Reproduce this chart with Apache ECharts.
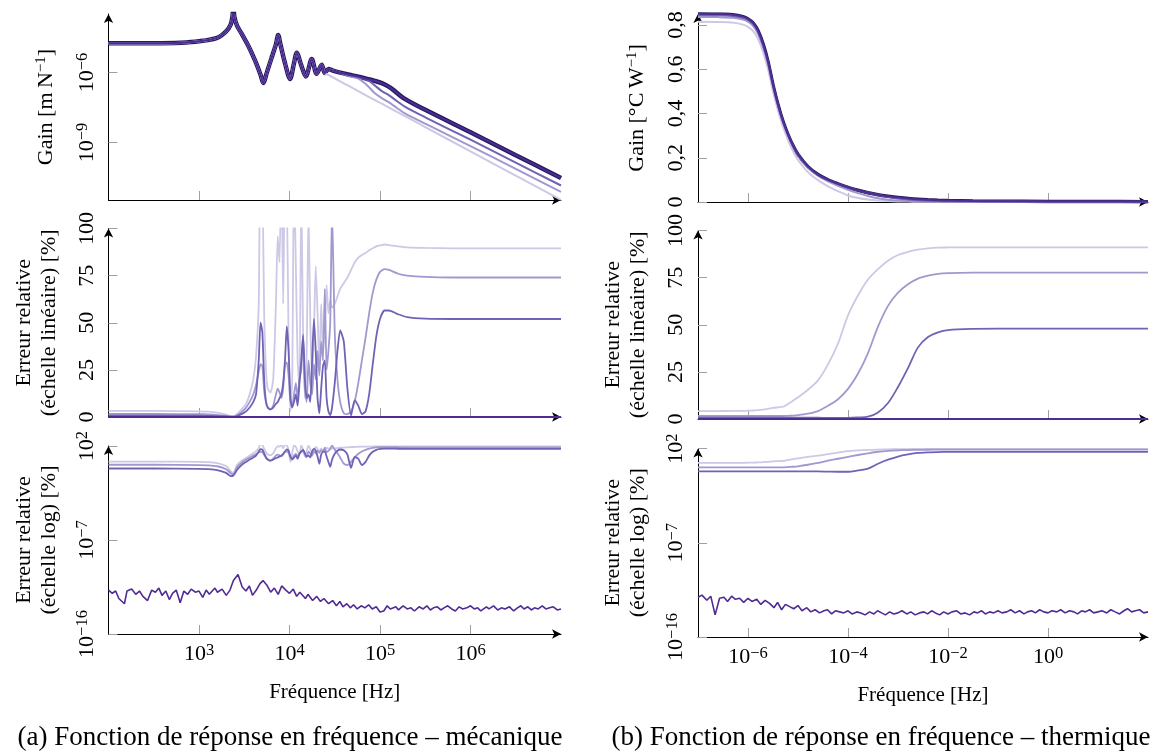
<!DOCTYPE html>
<html><head><meta charset="utf-8">
<script src="https://cdn.jsdelivr.net/npm/echarts@6/dist/echarts.min.js"></script>
<style>html,body{margin:0;padding:0;background:#fff}#c{width:1157px;height:756px}</style>
</head><body><div id="c"></div><script>
// ---------------- (a) mécanique ----------------
const freqGainMeca = [100,316,631,1000,1585,1995,2239,2344,2399,2455,2630,3020,3548,4169,4786,5129,5623,6310,7079,7499,7943,8913,10139,11220,12023,13490,15136,17620,19953,22699,24547,26915,30200,35481,45709,57544,72444,87096,104713,125893,141254,186209,316228,1000000,3162278,10000000];
const gainRefMeca = [1.78e-5,1.78e-5,1.86e-5,2.14e-5,3.02e-5,5.75e-5,1.12e-4,2.51e-4,6.31e-4,2.51e-4,1.0e-4,3.98e-5,1.26e-5,3.16e-6,7.94e-7,3.55e-7,1.0e-6,3.98e-6,1.58e-5,3.98e-5,1.58e-5,2.51e-6,5.25e-7,2.51e-6,6.92e-6,2.0e-6,6.76e-7,3.72e-6,8.71e-7,2.14e-6,9.33e-7,1.41e-6,1.2e-6,1.0e-6,7.94e-7,6.61e-7,5.25e-7,4.37e-7,3.47e-7,2.4e-7,1.74e-7,7.59e-8,2.51e-8,2.75e-9,2.88e-10,3.02e-11];
const gainMeca4 = [1.78e-5,1.78e-5,1.86e-5,2.14e-5,3.02e-5,5.75e-5,1.12e-4,2.51e-4,6.31e-4,2.51e-4,1.0e-4,3.98e-5,1.26e-5,3.16e-6,7.94e-7,3.55e-7,1.0e-6,3.98e-6,1.58e-5,3.98e-5,1.58e-5,2.51e-6,5.25e-7,2.51e-6,6.92e-6,2.0e-6,6.76e-7,3.72e-6,8.71e-7,2.14e-6,9.33e-7,1.41e-6,1.2e-6,1.0e-6,7.94e-7,6.61e-7,5.25e-7,4.37e-7,3.47e-7,2.4e-7,1.74e-7,7.59e-8,2.51e-8,2.75e-9,2.88e-10,3.02e-11];
const gainMeca3 = [1.78e-5,1.78e-5,1.86e-5,2.14e-5,3.02e-5,5.75e-5,1.12e-4,2.51e-4,6.31e-4,2.51e-4,1.0e-4,3.98e-5,1.26e-5,3.16e-6,7.94e-7,3.55e-7,1.0e-6,3.98e-6,1.58e-5,3.98e-5,1.58e-5,2.51e-6,5.25e-7,2.51e-6,6.92e-6,2.0e-6,6.76e-7,3.72e-6,8.71e-7,2.14e-6,9.33e-7,1.41e-6,1.2e-6,1.0e-6,7.59e-7,6.17e-7,4.79e-7,2.82e-7,1.58e-7,1.05e-7,7.59e-8,3.55e-8,1.2e-8,1.32e-9,1.38e-10,1.45e-11];
const gainMeca2 = [1.78e-5,1.78e-5,1.86e-5,2.14e-5,3.02e-5,5.75e-5,1.12e-4,2.51e-4,6.31e-4,2.51e-4,1.0e-4,3.98e-5,1.26e-5,3.16e-6,7.94e-7,3.55e-7,1.0e-6,3.98e-6,1.58e-5,3.98e-5,1.58e-5,2.51e-6,5.25e-7,2.51e-6,6.92e-6,2.0e-6,6.76e-7,3.72e-6,8.71e-7,2.14e-6,9.33e-7,1.41e-6,1.2e-6,1.0e-6,6.92e-7,5.37e-7,2.75e-7,1.32e-7,7.94e-8,5.25e-8,3.8e-8,1.82e-8,6.46e-9,7.08e-10,7.41e-11,7.76e-12];
const gainMeca1 = [1.72e-5,1.72e-5,1.80e-5,2.14e-5,3.02e-5,5.75e-5,1.12e-4,2.51e-4,6.31e-4,2.51e-4,1.0e-4,3.98e-5,1.26e-5,3.16e-6,7.94e-7,3.55e-7,1.0e-6,3.98e-6,1.58e-5,3.98e-5,1.58e-5,2.51e-6,5.25e-7,2.51e-6,6.92e-6,2.0e-6,6.76e-7,3.72e-6,8.71e-7,2.14e-6,9.33e-7,7.76e-7,6.17e-7,4.37e-7,2.57e-7,1.58e-7,9.77e-8,6.61e-8,4.57e-8,3.09e-8,2.45e-8,1.38e-8,4.57e-9,4.17e-10,3.8e-11,3.55e-12];

const freqErrMeca = [100,316,1000,1259,1585,1995,2239,2399,2630,2951,3311,3631,3981,4266,4571,4786,5012,5248,5495,5754,6166,6607,7079,7413,7762,8128,8511,8913,9333,9772,10233,10715,11220,11749,12303,12882,13490,14125,14791,15488,16218,16982,17783,18621,19498,20417,21380,22387,23442,24547,25704,26915,28184,29512,31623,33884,36308,39811,43652,47863,52481,57544,63096,69183,75858,83176,91201,100000,112202,125893,158489,199526,316228,630957,1584893,3981072,10000000];
const errMeca1 = [3.2,3.2,3.0,2.8,2.3,1.2,0.4,0.25,1.5,4,7,12,20,32,60,160,130,55,25,15,13,20,60,96,82,140,60,130,120,40,3,20,130,80,30,15,120,45,10,35,110,50,20,45,80,55,25,60,35,48,70,55,62,58,60,64,68,71,74,78,82,84.5,86,87,88.5,89.5,90.5,91,91.5,91.2,90.5,90,89.7,89.5,89.5,89.5,89.5];
const errMeca2 = [1.6,1.6,1.5,1.4,1.15,0.6,0.25,0.2,0.9,2.5,5,8,12,17,24,28,27,14,8,5,4,6,12,15,13,10,15,28,29,22,8,6,12,18,10,20,25,44,15,8,30,18,12,28,20,35,22,40,30,68,25,35,50,110,45,20,8,2,1.5,3,8,18,30,42,55,66,73,77,78.5,78,76,75,74.3,74,74,74,74];
const errMeca3 = [0.7,0.7,0.65,0.6,0.5,0.27,0.13,0.15,0.5,1.5,3,5,8,12,30,50,45,20,8,5,4,5,7,8,10,12,18,30,48,35,10,5,8,12,6,18,30,43,20,10,12,8,30,52,35,10,2,15,27,30,10,3,1,5,18,35,46,40,15,0.8,9,6,1.5,3,12,28,43,52,56.5,56.5,54.5,53,52.2,52,52,52,52];

const freqNoiseMeca = [100,110,120,130,150,160,180,200,220,240,270,300,330,360,390,430,470,510,560,620,680,750,820,910,
1000,1100,1200,1300,1500,1600,1800,2000,2200,2400,2700,3000,3300,3600,3900,4300,4700,5100,5600,6200,6800,7500,8200,9100,
1e4,1.1e4,1.2e4,1.3e4,1.5e4,1.6e4,1.8e4,2e4,2.2e4,2.4e4,2.7e4,3e4,3.3e4,3.6e4,3.9e4,4.3e4,4.7e4,5.1e4,5.6e4,6.2e4,6.8e4,7.5e4,8.2e4,9.1e4,
1e5,1.1e5,1.2e5,1.3e5,1.5e5,1.6e5,1.8e5,2e5,2.2e5,2.4e5,2.7e5,3e5,3.3e5,3.6e5,3.9e5,4.3e5,4.7e5,5.1e5,5.6e5,6.2e5,6.8e5,7.5e5,8.2e5,9.1e5,
1e6,1.1e6,1.2e6,1.3e6,1.5e6,1.6e6,1.8e6,2e6,2.2e6,2.4e6,2.7e6,3e6,3.3e6,3.6e6,3.9e6,4.3e6,4.7e6,5.1e6,5.6e6,6.2e6,6.8e6,7.5e6,8.2e6,9.1e6,1e7];
const errMeca4 = [1.6e-12,7.9e-13,1.3e-12,2.5e-13,7.9e-14,1.3e-12,2.0e-12,6.3e-13,1.3e-12,4.0e-13,1.6e-13,1.6e-12,1.0e-12,2.5e-12,5.0e-13,1.3e-12,2.0e-13,7.9e-13,1.6e-12,1.0e-13,1.3e-12,6.3e-13,2.0e-12,1.0e-12,
1.3e-12,3.2e-13,1.6e-12,6.3e-13,2.5e-12,1.0e-12,2.0e-12,5.0e-13,1.6e-12,1.3e-11,5.0e-11,3.2e-12,1.3e-12,4.0e-12,5.0e-13,1.6e-12,6.3e-12,1.3e-11,5.0e-12,1.0e-12,2.5e-12,6.3e-13,4.0e-12,1.6e-12,
7.9e-13,2.0e-12,4.0e-13,1.0e-12,2.5e-13,6.3e-13,1.6e-13,4.0e-13,1.3e-13,2.5e-13,7.9e-14,1.6e-13,5.0e-14,1.3e-13,4.0e-14,7.9e-14,3.2e-14,6.3e-14,2.5e-14,5.0e-14,3.2e-14,6.3e-14,2.5e-14,4.0e-14,
1.3e-14,1.6e-14,5.0e-14,2.5e-14,4.0e-14,2.0e-14,5.0e-14,2.5e-14,3.2e-14,1.6e-14,4.0e-14,2.5e-14,5.0e-14,2.0e-14,3.2e-14,4.0e-14,2.0e-14,3.2e-14,5.0e-14,2.5e-14,1.6e-14,4.0e-14,2.5e-14,3.2e-14,
5.0e-14,2.5e-14,3.2e-14,1.6e-14,4.0e-14,2.5e-14,5.0e-14,2.0e-14,3.2e-14,2.5e-14,4.0e-14,1.6e-14,3.2e-14,5.0e-14,2.5e-14,4.0e-14,2.0e-14,3.2e-14,2.5e-14,5.0e-14,2.5e-14,3.2e-14,4.0e-14,2.0e-14,2.5e-14];

// ---------------- (b) thermique ----------------
const freqTherm = [1e-7,2.51e-7,5.01e-7,7.94e-7,1e-6,1.26e-6,1.58e-6,2.0e-6,2.51e-6,3.16e-6,3.98e-6,5.01e-6,6.31e-6,7.94e-6,1e-5,1.58e-5,2.51e-5,3.98e-5,6.31e-5,1e-4,1.58e-4,2.51e-4,3.98e-4,6.31e-4,1e-3,1.58e-3,2.51e-3,3.98e-3,6.31e-3,1e-2,3.16e-2,0.1,1,10,100];
const gainRefTherm = [0.851,0.850,0.847,0.838,0.828,0.81,0.775,0.715,0.635,0.53,0.44,0.365,0.305,0.255,0.215,0.16,0.124,0.1,0.082,0.066,0.053,0.042,0.033,0.026,0.02,0.016,0.0125,0.01,0.008,0.0065,0.0045,0.0035,0.0025,0.002,0.0015];
const gainTherm4 = [0.851,0.850,0.847,0.838,0.828,0.81,0.775,0.715,0.635,0.53,0.44,0.365,0.305,0.255,0.215,0.16,0.124,0.1,0.082,0.066,0.053,0.042,0.033,0.026,0.02,0.016,0.0125,0.01,0.008,0.0065,0.0045,0.0035,0.0025,0.002,0.0015];
const gainTherm3 = [0.845,0.844,0.841,0.833,0.823,0.805,0.770,0.710,0.631,0.527,0.437,0.363,0.303,0.253,0.214,0.159,0.123,0.0994,0.0815,0.0656,0.0526,0.0415,0.0318,0.0238,0.0166,0.0117,0.0078,0.0057,0.0043,0.0034,0.0023,0.0018,0.0013,0.001,0.00078];
const gainTherm2 = [0.837,0.836,0.833,0.825,0.815,0.797,0.763,0.704,0.625,0.522,0.433,0.359,0.300,0.250,0.211,0.156,0.119,0.093,0.073,0.0554,0.0403,0.0273,0.0168,0.0104,0.0066,0.0046,0.0032,0.0024,0.0018,0.0015,0.001,0.00078,0.00056,0.00045,0.00034];
const gainTherm1 = [0.815,0.814,0.811,0.802,0.792,0.774,0.739,0.679,0.601,0.499,0.413,0.341,0.281,0.230,0.190,0.135,0.0986,0.071,0.049,0.0297,0.0183,0.0109,0.0068,0.0042,0.0026,0.0018,0.0013,0.00095,0.00073,0.00059,0.0004,0.00031,0.00022,0.00018,0.00013];
const errTherm1 = [4.2,4.2,4.3,4.3,4.4,4.5,4.7,5.0,5.4,5.9,6.2,6.5,8.0,9.7,11.5,15.5,20.5,29,40,55,65.5,74,79.5,84,87,88.7,89.8,90.5,90.9,91,91.1,91.1,91.1,91.1,91.1];
const errTherm2 = [1.6,1.6,1.6,1.6,1.6,1.6,1.6,1.6,1.6,1.6,1.6,1.6,1.7,1.8,2.0,2.8,4.2,7.0,10.5,16,24,35,49,60,67,71.5,74.5,76,77,77.4,77.6,77.6,77.6,77.6,77.6];
const errTherm3 = [0.65,0.65,0.65,0.65,0.65,0.65,0.65,0.65,0.65,0.65,0.65,0.65,0.65,0.65,0.65,0.65,0.65,0.62,0.6,0.6,0.8,1.2,3.5,8.5,17,27,38,43.5,46,47.2,47.8,47.9,47.9,47.9,47.9];

const freqNoiseTherm = [1e-7,1.2e-7,1.5e-7,1.8e-7,2.2e-7,2.7e-7,3.3e-7,3.9e-7,4.7e-7,5.6e-7,6.8e-7,8.2e-7,
1e-6,1.2e-6,1.5e-6,1.8e-6,2.2e-6,2.7e-6,3.3e-6,3.9e-6,4.7e-6,5.6e-6,6.8e-6,8.2e-6,
1e-5,1.2e-5,1.5e-5,1.8e-5,2.2e-5,2.7e-5,3.3e-5,3.9e-5,4.7e-5,5.6e-5,6.8e-5,8.2e-5,
1e-4,1.2e-4,1.5e-4,1.8e-4,2.2e-4,2.7e-4,3.3e-4,3.9e-4,4.7e-4,5.6e-4,6.8e-4,8.2e-4,
1e-3,1.2e-3,1.5e-3,1.8e-3,2.2e-3,2.7e-3,3.3e-3,3.9e-3,4.7e-3,5.6e-3,6.8e-3,8.2e-3,
1e-2,1.2e-2,1.5e-2,1.8e-2,2.2e-2,2.7e-2,3.3e-2,3.9e-2,4.7e-2,5.6e-2,6.8e-2,8.2e-2,
0.1,0.12,0.15,0.18,0.22,0.27,0.33,0.39,0.47,0.56,0.68,0.82,
1,1.2,1.5,1.8,2.2,2.7,3.3,3.9,4.7,5.6,6.8,8.2,
10,12,15,18,22,27,33,39,47,56,68,82,100];
const errTherm4 = [6.3e-13,1.0e-12,3.2e-13,7.9e-13,1.3e-14,5.0e-13,6.3e-13,2.5e-13,7.9e-13,4.0e-13,5.0e-13,2.0e-13,
5.0e-13,2.5e-13,4.0e-13,1.3e-13,3.2e-13,1.6e-13,6.3e-14,2.0e-13,4.0e-14,1.3e-13,7.9e-14,5.0e-14,
1.0e-13,3.2e-14,6.3e-14,2.5e-14,4.0e-14,2.0e-14,3.2e-14,4.0e-14,1.6e-14,3.2e-14,2.5e-14,2.0e-14,
3.2e-14,1.6e-14,2.5e-14,2.0e-14,1.3e-14,2.5e-14,1.6e-14,3.2e-14,2.0e-14,1.3e-14,2.5e-14,1.6e-14,
2.0e-14,3.2e-14,1.6e-14,2.5e-14,1.3e-14,2.0e-14,2.5e-14,1.6e-14,3.2e-14,2.0e-14,1.3e-14,2.5e-14,
1.6e-14,2.5e-14,3.2e-14,1.6e-14,2.0e-14,1.3e-14,2.5e-14,2.0e-14,3.2e-14,1.6e-14,2.5e-14,2.0e-14,
3.2e-14,2.0e-14,2.5e-14,4.0e-14,2.0e-14,3.2e-14,1.6e-14,2.5e-14,3.2e-14,2.0e-14,4.0e-14,2.5e-14,
2.0e-14,3.2e-14,2.5e-14,4.0e-14,2.0e-14,3.2e-14,2.5e-14,1.6e-14,3.2e-14,2.5e-14,4.0e-14,2.0e-14,
2.5e-14,3.2e-14,2.0e-14,4.0e-14,2.5e-14,1.6e-14,3.2e-14,5.0e-14,2.5e-14,3.2e-14,4.0e-14,2.0e-14,2.5e-14];

// ---------------- axes: ranges and ticks ----------------
const xRangeMeca = [1e2, 1e7];
const xTicksMeca = [1e3, 1e4, 1e5, 1e6];
const xRangeTherm = [1e-7, 1e2];
const xTicksTherm = [1e-6, 1e-4, 1e-2, 1];
const yRangeGainMeca = [3.47e-12, 3.16e-4];
const yTicksGainMeca = [1e-9, 1e-6];
const yRangeGainTherm = [0, 0.85];
const yTicksGainTherm = [0, 0.2, 0.4, 0.6, 0.8];
const yRangeLin = [0, 100];
const yTicksLin = [0, 25, 50, 75, 100];
const yRangeLog = [1e-16, 1e2];
const yTicksLog = [1e-16, 1e-7, 1e2];

// ---------------- helpers ----------------
const FONT = '"Liberation Serif", "Times New Roman", serif';
const lg = v => Math.round(Math.log10(v) * 1e6) / 1e6;
const logLog = (xs, ys) => xs.map((x, i) => [lg(x), lg(ys[i])]);
const logLin = (xs, ys) => xs.map((x, i) => [lg(x), ys[i]]);
const C1 = '#ccc8e5', C2 = '#9f99cf', C3 = '#6f63b5', C4 = '#4f2b93', CREF = '#221c5c';

const rich = {
  b: {fontFamily: FONT, fontSize: 22, color: '#000', lineHeight: 25},
  s: {fontFamily: FONT, fontSize: 16.5, color: '#000', lineHeight: 16, verticalAlign: 'top'}
};
function supFmt(v) { const e = Math.round(v); return '{b|10}{s|' + (e < 0 ? '\u2212' + (-e) : String(e)) + '}'; }
const linFmt = v => '{b|' + Math.round(v) + '}';
const commaFmt = v => '{b|' + (Math.abs(v) < 1e-9 ? '0' : v.toFixed(1).replace('.', ',')) + '}';

function mkX(gi, range, ticks, bottom) {
  const tv = ticks.map(lg);
  return {
    type: 'value', gridIndex: gi, min: lg(range[0]), max: lg(range[1]),
    axisLine: {show: true, onZero: false, symbol: ['none', 'arrow'], symbolSize: [7, 9], lineStyle: {color: '#000', width: 1}},
    axisTick: {show: true, inside: true, length: 9, lineStyle: {color: '#a0a0a0', width: 1}, customValues: tv},
    axisLabel: {show: bottom, customValues: tv, formatter: supFmt, rich: rich, margin: 8},
    splitLine: {show: false},
    name: bottom ? 'Fréquence [Hz]' : '', nameLocation: 'middle', nameGap: 48,
    nameTextStyle: {fontFamily: FONT, fontSize: 21, color: '#000'}
  };
}
function mkY(gi, range, ticks, isLog, fmt, name, gap) {
  const tv = isLog ? ticks.map(lg) : ticks;
  return {
    type: 'value', gridIndex: gi,
    min: isLog ? lg(range[0]) : range[0], max: isLog ? lg(range[1]) : range[1],
    axisLine: {show: true, onZero: false, symbol: ['none', 'arrow'], symbolSize: [7, 9], lineStyle: {color: '#000', width: 1}},
    axisTick: {show: true, inside: true, length: 9, lineStyle: {color: '#a0a0a0', width: 1}, customValues: tv},
    axisLabel: {show: true, customValues: tv, formatter: fmt, rich: rich, rotate: 90, margin: 9},
    splitLine: {show: false},
    name: name, nameLocation: 'middle', nameRotate: 90, nameGap: gap,
    nameTextStyle: {fontFamily: FONT, fontSize: 22, color: '#000', lineHeight: 25,
      rich: {s: {fontFamily: FONT, fontSize: 15, color: '#000', lineHeight: 15, verticalAlign: 'top'}}}
  };
}
function ln(gi, data, color, width, smooth, z) {
  return {type: 'line', xAxisIndex: gi, yAxisIndex: gi, data: data, symbol: 'none', showSymbol: false,
    smooth: smooth, lineStyle: {color: color, width: width}, itemStyle: {color: color},
    clip: true, silent: true, z: z, emphasis: {disabled: true}, animation: false};
}

const ERR_LIN = 'Erreur relative\n(échelle linéaire) [%]';
const ERR_LOG = 'Erreur relative\n(échelle log) [%]';

const option = {
  backgroundColor: '#fff',
  animation: false,
  grid: [
    {left: 108.5, top: 14, width: 452.5, height: 186, containLabel: false, outerBoundsMode: 'none'},
    {left: 108.5, top: 228.5, width: 452.5, height: 188.5, containLabel: false, outerBoundsMode: 'none'},
    {left: 108.5, top: 446, width: 452.5, height: 188, containLabel: false, outerBoundsMode: 'none'},
    {left: 698, top: 14, width: 450, height: 188, containLabel: false, outerBoundsMode: 'none'},
    {left: 698, top: 230.5, width: 450, height: 188.5, containLabel: false, outerBoundsMode: 'none'},
    {left: 698, top: 448.5, width: 450, height: 188.5, containLabel: false, outerBoundsMode: 'none'}
  ],
  xAxis: [
    mkX(0, xRangeMeca, xTicksMeca, false),
    mkX(1, xRangeMeca, xTicksMeca, false),
    mkX(2, xRangeMeca, xTicksMeca, true),
    mkX(3, xRangeTherm, xTicksTherm, false),
    mkX(4, xRangeTherm, xTicksTherm, false),
    mkX(5, xRangeTherm, xTicksTherm, true)
  ],
  yAxis: [
    mkY(0, yRangeGainMeca, yTicksGainMeca, true, supFmt, 'Gain [m\u2009N{s|\u22121}]', 50),
    mkY(1, yRangeLin, yTicksLin, false, linFmt, ERR_LIN, 47),
    mkY(2, yRangeLog, yTicksLog, true, supFmt, ERR_LOG, 47),
    mkY(3, yRangeGainTherm, yTicksGainTherm, false, commaFmt, 'Gain [°C\u2009W{s|\u22121}]', 48),
    mkY(4, yRangeLin, yTicksLin, false, linFmt, ERR_LIN, 47),
    mkY(5, yRangeLog, yTicksLog, true, supFmt, ERR_LOG, 47)
  ],
  series: [
    ln(0, logLog(freqGainMeca, gainRefMeca), CREF, 4.5, 0.3, 2),
    ln(0, logLog(freqGainMeca, gainMeca1), C1, 2, 0.3, 3),
    ln(0, logLog(freqGainMeca, gainMeca2), C2, 2, 0.3, 4),
    ln(0, logLog(freqGainMeca, gainMeca3), C3, 2, 0.3, 5),
    ln(0, logLog(freqGainMeca, gainMeca4), C4, 2, 0.3, 6),

    ln(1, logLin(freqErrMeca, errMeca1), C1, 1.8, 0.2, 3),
    ln(1, logLin(freqErrMeca, errMeca2), C2, 1.8, 0.2, 4),
    ln(1, logLin(freqErrMeca, errMeca3), C3, 1.8, 0.2, 5),
    ln(1, logLin(freqNoiseMeca, errMeca4), C4, 2, 0, 6),

    ln(2, logLog(freqErrMeca, errMeca1), C1, 1.8, 0.2, 3),
    ln(2, logLog(freqErrMeca, errMeca2), C2, 1.8, 0.2, 4),
    ln(2, logLog(freqErrMeca, errMeca3), C3, 1.8, 0.2, 5),
    ln(2, logLog(freqNoiseMeca, errMeca4), C4, 1.6, 0, 6),

    ln(3, logLin(freqTherm, gainRefTherm), CREF, 3.5, 0.3, 2),
    ln(3, logLin(freqTherm, gainTherm1), C1, 2, 0.3, 3),
    ln(3, logLin(freqTherm, gainTherm2), C2, 2, 0.3, 4),
    ln(3, logLin(freqTherm, gainTherm3), C3, 2, 0.3, 5),
    ln(3, logLin(freqTherm, gainTherm4), C4, 2, 0.3, 6),

    ln(4, logLin(freqTherm, errTherm1), C1, 1.8, 0.3, 3),
    ln(4, logLin(freqTherm, errTherm2), C2, 1.8, 0.3, 4),
    ln(4, logLin(freqTherm, errTherm3), C3, 1.8, 0.3, 5),
    ln(4, logLin(freqNoiseTherm, errTherm4), C4, 2, 0, 6),

    ln(5, logLog(freqTherm, errTherm1), C1, 1.8, 0.3, 3),
    ln(5, logLog(freqTherm, errTherm2), C2, 1.8, 0.3, 4),
    ln(5, logLog(freqTherm, errTherm3), C3, 1.8, 0.3, 5),
    ln(5, logLog(freqNoiseTherm, errTherm4), C4, 1.6, 0, 6)
  ],
  graphic: [
    {type: 'text', x: 290, y: 738, silent: true,
     style: {text: '(a) Fonction de réponse en fréquence \u2013 mécanique', fontFamily: FONT, fontSize: 27, fill: '#000', align: 'center', verticalAlign: 'middle'}},
    {type: 'text', x: 881, y: 738, silent: true,
     style: {text: '(b) Fonction de réponse en fréquence \u2013 thermique', fontFamily: FONT, fontSize: 27, fill: '#000', align: 'center', verticalAlign: 'middle'}}
  ]
};

const chart = echarts.init(document.getElementById('c'), null, {renderer: 'canvas', width: 1157, height: 756});
chart.setOption(option);
</script></body></html>
